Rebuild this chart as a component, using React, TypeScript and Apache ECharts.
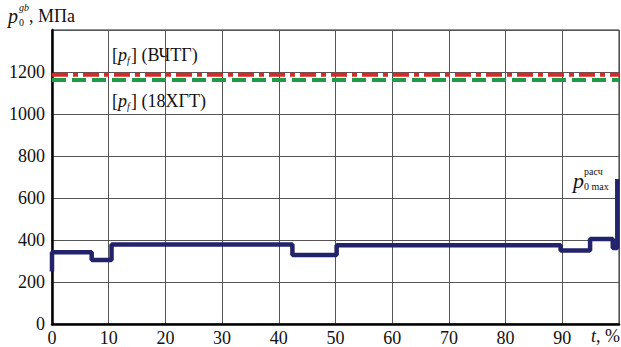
import React, { useEffect, useRef } from "react";
import * as echarts from "echarts";

const tPoints = [0, 0, 7, 10.5, 42.4, 50.2, 89.7, 94.9, 98.9, 99.7];
const pPoints = [250, 342, 305, 378, 328, 375, 350, 405, 362, 690];
const limitVCHTG = 1187;
const limit18XGT = 1162;
const xTicks = { min: 0, max: 100, interval: 10 };
const yTicks = { min: 0, max: 1400, interval: 200 };

const FONT = "'Times New Roman', 'Liberation Serif', serif";

function txt(text: string, x: number, y: number, size: number, italic = false, align = "left") {
  return {
    type: "text",
    x,
    y,
    silent: true,
    style: {
      text,
      fontFamily: FONT,
      fontSize: size,
      fontStyle: italic ? "italic" : "normal",
      fill: "#111",
      textAlign: align,
      textVerticalAlign: "middle",
    },
  };
}

export default function App() {
  const ref = useRef<HTMLDivElement>(null);
  useEffect(() => {
    if (!ref.current) return;
    const chart = echarts.init(ref.current, null, { renderer: "svg" });
    const stepData = tPoints.map((t, i) => [t, pPoints[i]]);
    chart.setOption({
      animation: false,
      backgroundColor: "#fff",
      textStyle: { fontFamily: FONT },
      grid: {
        left: 52,
        right: 2,
        top: 30,
        bottom: 23,
        show: true,
        borderColor: "#222",
        borderWidth: 1,
      },
      xAxis: {
        type: "value",
        min: xTicks.min,
        max: xTicks.max,
        interval: xTicks.interval,
        axisLine: { show: true, onZero: false, lineStyle: { color: "#000", width: 2.5 } },
        axisTick: { show: false },
        splitLine: { show: true, lineStyle: { color: "#555", width: 1 } },
        axisLabel: {
          showMaxLabel: false,
          margin: 5,
          color: "#111",
          fontFamily: FONT,
          fontSize: 18,
          formatter: (v: number) => String(v),
        },
      },
      yAxis: {
        type: "value",
        min: yTicks.min,
        max: yTicks.max,
        interval: yTicks.interval,
        axisLine: { show: true, onZero: false, lineStyle: { color: "#000", width: 2.5 } },
        axisTick: { show: false },
        splitLine: { show: true, lineStyle: { color: "#555", width: 1 } },
        axisLabel: {
          showMaxLabel: false,
          margin: 7,
          color: "#111",
          fontFamily: FONT,
          fontSize: 18,
          formatter: (v: number) => String(v),
        },
      },
      series: [
        {
          type: "line",
          data: [[xTicks.min, limit18XGT], [xTicks.max, limit18XGT]],
          symbol: "none",
          lineStyle: { color: "#1e9a48", width: 4, type: [14, 6] },
        },
        {
          type: "line",
          data: [[xTicks.min, limitVCHTG], [xTicks.max, limitVCHTG]],
          symbol: "none",
          lineStyle: { color: "#d42a2a", width: 4, type: [16, 5, 5, 5] },
        },
        {
          type: "line",
          data: stepData,
          step: "end",
          symbol: "none",
          lineStyle: { color: "#23236b", width: 4.5 },
        },
      ],
      graphic: [
        txt("p", 8, 16, 20, true),
        txt("gb", 19, 7, 10, true),
        txt("0", 19, 22, 10),
        txt(", МПа", 29, 16, 18),
        txt("[", 112, 55, 18),
        txt("p", 118, 55, 18, true),
        txt("f", 127, 60, 10, true),
        txt("] (ВЧТГ)", 131, 55, 18),
        txt("[", 112, 101, 18),
        txt("p", 118, 101, 18, true),
        txt("f", 127, 106, 10, true),
        txt("] (18ХГТ)", 131, 101, 18),
        txt("p", 573, 180, 22, true),
        txt("расч", 584, 171, 10),
        txt("0 max", 584, 186, 10),
        txt("t", 591, 336, 18, true),
        txt(", %", 596, 336, 18),
      ],
    });
    return () => chart.dispose();
  }, []);
  return (
    <div
      ref={ref}
      style={{ position: "fixed", left: 0, top: 0, width: 621, height: 347 }}
    />
  );
}
